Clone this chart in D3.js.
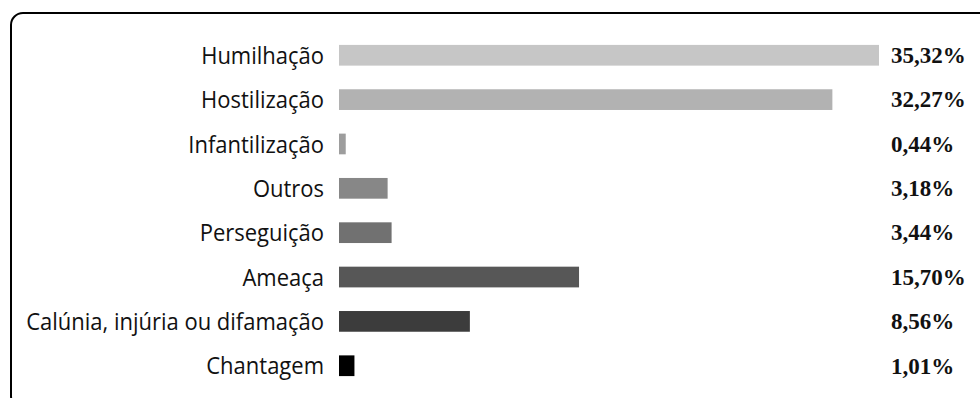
<!DOCTYPE html>
<html>
<head>
<meta charset="utf-8">
<script src="https://cdn.jsdelivr.net/npm/d3@7"></script>
<style>
  html, body { margin: 0; padding: 0; background: #fff; }
  svg { display: block; }
</style>
</head>
<body>
<svg id="chart" width="980" height="398"></svg>
<script>
// Tipos de violência e respectivas participações (%)
const categories = [
  "Humilhação",
  "Hostilização",
  "Infantilização",
  "Outros",
  "Perseguição",
  "Ameaça",
  "Calúnia, injúria ou difamação",
  "Chantagem"
];
const values = [35.32, 32.27, 0.44, 3.18, 3.44, 15.70, 8.56, 1.01];
const valueLabels = ["35,32%", "32,27%", "0,44%", "3,18%", "3,44%", "15,70%", "8,56%", "1,01%"];
const barColors = ["#c6c6c6", "#b2b2b2", "#9d9d9d", "#878787", "#717171", "#575757", "#3c3c3c", "#000000"];

const svg = d3.select("#chart");

// Moldura com canto arredondado
svg.append("rect")
  .attr("x", 11).attr("y", 13)
  .attr("width", 1000).attr("height", 395)
  .attr("rx", 12).attr("ry", 12)
  .attr("fill", "none")
  .attr("stroke", "#000")
  .attr("stroke-width", 2);

const x = d3.scaleLinear().domain([0, 35.32]).range([339, 879]);
const y = d3.scaleBand().domain(categories).range([23, 398])
  .paddingInner(0.533).paddingOuter(0.494);

const rows = svg.append("g").selectAll("g")
  .data(categories.map((c, i) => ({ c, v: values[i], label: valueLabels[i], color: barColors[i] })))
  .join("g");

rows.append("rect")
  .attr("x", x(0))
  .attr("y", d => y(d.c))
  .attr("width", d => x(d.v) - x(0))
  .attr("height", y.bandwidth())
  .attr("fill", d => d.color);

// Rótulos das categorias (levemente alongados na vertical)
rows.append("text")
  .attr("transform", d => `translate(${x(0) - 15},${y(d.c) + y.bandwidth() / 2}) scale(1,1.1)`)
  .attr("dy", "0.36em")
  .attr("text-anchor", "end")
  .attr("font-family", "'Open Sans', sans-serif")
  .attr("font-size", 22)
  .attr("fill", "#111")
  .text(d => d.c);

// Valores percentuais
rows.append("text")
  .attr("x", 891)
  .attr("y", d => y(d.c) + y.bandwidth() / 2)
  .attr("dy", "0.34em")
  .attr("font-family", "'Liberation Serif', serif")
  .attr("font-weight", "bold")
  .attr("font-size", 23)
  .attr("fill", "#111")
  .text(d => d.label);
</script>
</body>
</html>
